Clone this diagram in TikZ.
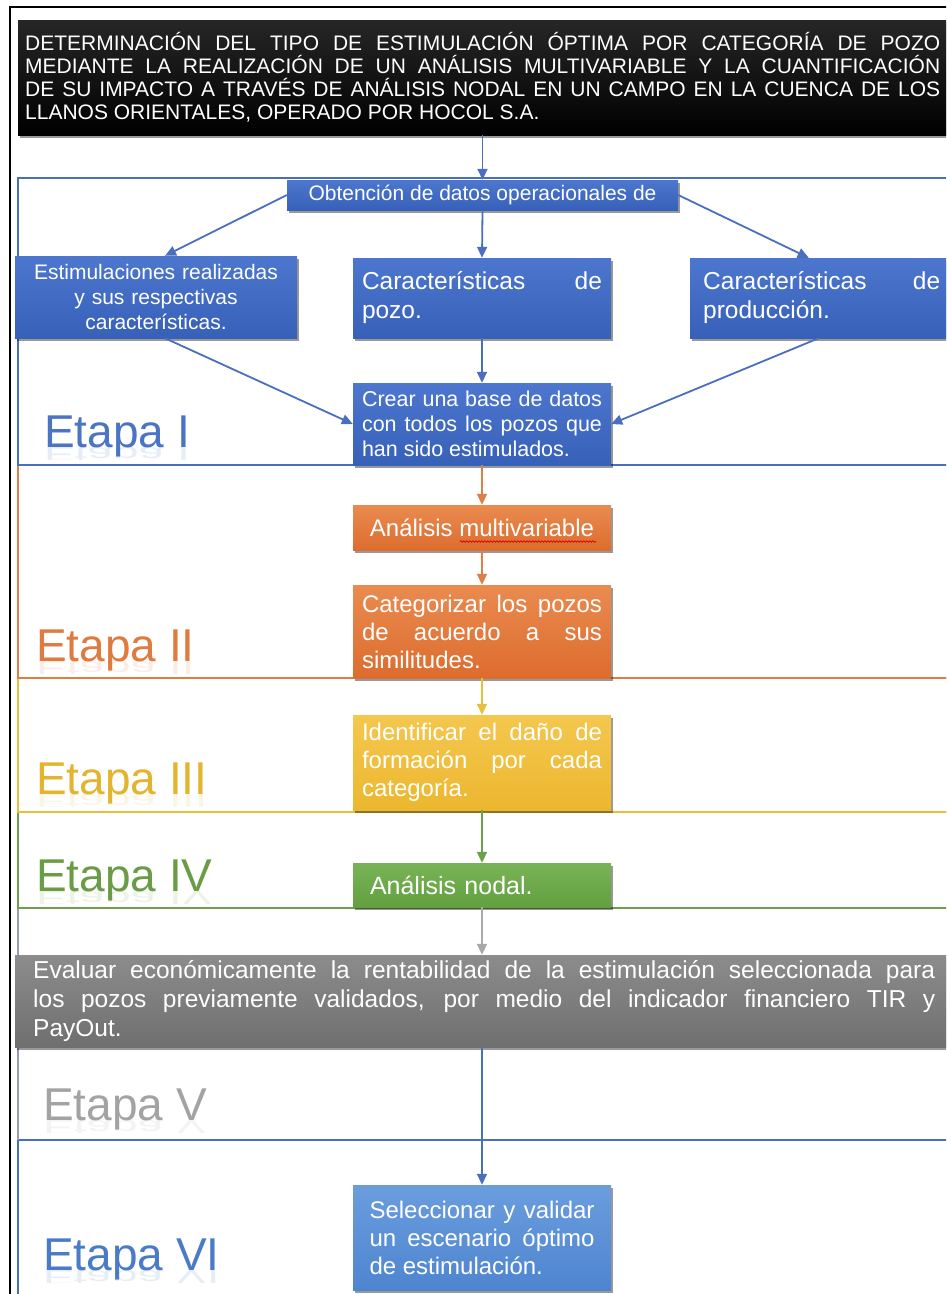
\documentclass[tikz,border=0pt]{standalone}
\usepackage{fontspec}
\setmainfont{Liberation Sans}
\usetikzlibrary{arrows.meta,shadows,calc,decorations.pathmorphing}
\hyphenpenalty=10000
\exhyphenpenalty=10000
\tolerance=9999

\definecolor{bluetop}{HTML}{4D77CE}
\definecolor{bluebot}{HTML}{3760B9}
\definecolor{lbluetop}{HTML}{6B9DDE}
\definecolor{lbluebot}{HTML}{4E85CF}
\definecolor{orgtop}{HTML}{EA8B50}
\definecolor{orgbot}{HTML}{DD6C2E}
\definecolor{yeltop}{HTML}{F4C74E}
\definecolor{yelbot}{HTML}{ECB72F}
\definecolor{grntop}{HTML}{79B357}
\definecolor{grnbot}{HTML}{62A03F}
\definecolor{graytop}{HTML}{8C8C8C}
\definecolor{graybot}{HTML}{6F6F6F}
\definecolor{lineblue}{HTML}{4A6FBF}
\definecolor{lineorg}{HTML}{E07D45}
\definecolor{lineyel}{HTML}{E9BE3C}
\definecolor{linegrn}{HTML}{6E9F4B}
\definecolor{linegray}{HTML}{A9A9A9}
\definecolor{txtblue}{HTML}{4B74C4}
\definecolor{txtorg}{HTML}{E07B40}
\definecolor{txtyel}{HTML}{E3B42E}
\definecolor{txtgrn}{HTML}{6A9C45}
\definecolor{txtgray}{HTML}{A3A3A3}
\definecolor{txtblue2}{HTML}{4A7BC6}

% stage label with a faint, squashed mirror image under its baseline
\newcommand{\stagelabel}[4]{% name, colour, position, text
  \node[etapa, text=#2] (#1) at (#3) {#4};
  \begin{scope}
    \clip ($(#3)+(-2,0)$) rectangle ($(#3)+(220,12)$);
    \node[etapa, text=#2, opacity=0.13, transform shape, yscale=-0.45] at (#3) {#4};
  \end{scope}}

\begin{document}
\begin{tikzpicture}[x=1pt,y=-1pt,
  box/.style={rectangle, inner sep=0pt, text=white,
    drop shadow={shadow xshift=1.5pt, shadow yshift=-3pt, opacity=0.4, fill=black}},
  bluebox/.style={box, top color=bluetop, bottom color=bluebot},
  lbluebox/.style={box, top color=lbluetop, bottom color=lbluebot},
  orgbox/.style={box, top color=orgtop, bottom color=orgbot},
  yelbox/.style={box, top color=yeltop, bottom color=yelbot},
  grnbox/.style={box, top color=grntop, bottom color=grnbot},
  graybox/.style={box, top color=graytop, bottom color=graybot},
  colbox/.style={minimum width=258pt, text width=240pt, align=justify},
  flow/.style={line width=1.8pt, -{Triangle[length=11pt,width=10pt]}},
  region/.style={line width=2pt},
  etapa/.style={anchor=base west, inner sep=0pt, font=\fontsize{46}{50}\selectfont},
]
\useasboundingbox (0,0) rectangle (946,1294);
\fill[white] (0,0) rectangle (946,1294);
\clip (0,0) rectangle (946,1294);

% stage bands, drawn bottom-up so each upper band's border sits on top
\draw[region, lineblue] (18,1140) rectangle (960,1300);
\draw[region, linegray!80!lineblue] (18,908) -- (18,1140);
\draw[region, linegrn] (18,812) rectangle (960,908);
\draw[region, lineyel] (18,678) rectangle (960,812);
\draw[region, lineorg] (18,465) rectangle (960,678);
\draw[region, lineblue] (18,178) rectangle (960,465);

% outer frame
\draw[line width=2.5pt, black] (10,1300) -- (10,7) -- (960,7);

% title
\node[box, top color=black!85, bottom color=black, anchor=west,
  text width=915pt, inner xsep=7pt, minimum height=115pt, align=justify,
  font=\fontsize{21}{23}\selectfont] (title) at (18,77.5)
  {DETERMINACIÓN DEL TIPO DE ESTIMULACIÓN ÓPTIMA POR CATEGORÍA DE POZO\linebreak
   MEDIANTE LA REALIZACIÓN DE UN ANÁLISIS MULTIVARIABLE Y LA CUANTIFICACIÓN\linebreak
   DE SU IMPACTO A TRAVÉS DE ANÁLISIS NODAL EN UN CAMPO EN LA CUENCA DE LOS\linebreak
   LLANOS ORIENTALES, OPERADO POR HOCOL S.A.};

% Etapa I
\node[bluebox, minimum width=391pt, minimum height=30pt, font=\fontsize{21}{24}\selectfont]
  (obt) at (482.5,195) {Obtención de datos operacionales de};
\node[bluebox, minimum width=282pt, minimum height=82pt, text width=270pt, align=center,
  font=\fontsize{21}{25}\selectfont] (est) at (156,297)
  {Estimulaciones realizadas\\ y sus respectivas\\ características.};
\node[bluebox, colbox, minimum height=80pt, font=\fontsize{24.5}{29}\selectfont]
  (pozo) at (482,298) {Características de\linebreak pozo.};
\node[bluebox, anchor=west, text width=237pt, inner xsep=13pt, minimum height=80pt,
  align=justify, font=\fontsize{24.5}{29}\selectfont]
  (prod) at (690,298) {Características de\linebreak producción.};
\node[bluebox, colbox, minimum height=82pt, font=\fontsize{21.5}{25}\selectfont]
  (crear) at (482,424) {Crear una base de datos\linebreak con todos los pozos que\linebreak han sido estimulados.};
\stagelabel{e1}{txtblue}{44,447}{Etapa I}

% Etapa II
\node[orgbox, minimum width=258pt, minimum height=45pt, font=\fontsize{24}{28}\selectfont]
  (multi) at (482,527.5) {Análisis multivariable};
\node[orgbox, colbox, minimum height=93pt, font=\fontsize{24}{28}\selectfont]
  (categ) at (482,631.5) {Categorizar los pozos\linebreak de acuerdo a sus\linebreak similitudes.};
\stagelabel{e2}{txtorg}{36,661}{Etapa II}

% Etapa III
\node[yelbox, colbox, minimum height=95pt, font=\fontsize{24}{28}\selectfont]
  (ident) at (482,762.5) {Identificar el daño de\linebreak formación por cada\linebreak categoría.};
\stagelabel{e3}{txtyel}{36,794}{Etapa III}

% Etapa IV
\node[grnbox, minimum width=258pt, minimum height=44pt, text width=224pt, align=left,
  font=\fontsize{25}{29}\selectfont] (nodal) at (482,885) {Análisis nodal.};
\stagelabel{e4}{txtgrn}{36,891}{Etapa IV}

% Etapa V
\node[graybox, anchor=west, text width=902pt, inner xsep=18pt, minimum height=92pt,
  align=justify, font=\fontsize{24.5}{29}\selectfont] (eval) at (15,1001)
  {Evaluar económicamente la rentabilidad de la estimulación seleccionada para\linebreak
   los pozos previamente validados, por medio del indicador financiero TIR y\linebreak
   PayOut.};
\stagelabel{e5}{txtgray}{43,1120}{Etapa V}

% Etapa VI
\node[lbluebox, minimum width=258pt, text width=225pt, align=justify, minimum height=105pt,
  font=\fontsize{24}{28}\selectfont] (selec) at (482,1237.5)
  {Seleccionar y validar\linebreak un escenario óptimo\linebreak de estimulación.};
\stagelabel{e6}{txtblue2}{43,1270}{Etapa VI}

% spelling mark under "multivariable"
\draw[red!85!black, line width=0.7pt, decorate,
  decoration={snake, amplitude=0.8pt, segment length=3pt}]
  ($(multi.center)+(-22,14)$) -- ($(multi.center)+(114,14)$);

% connectors
\draw[flow, lineblue] (title.south -| obt.north) -- (obt.north);
\draw[flow, lineblue] (obt.west) -- ($(est.north)+(9,0)$);
\draw[flow, lineblue] (obt.south) -- (pozo.north);
\draw[flow, lineblue] (obt.east) -- ($(prod.north)+(-13,0)$);
\draw[flow, lineblue] ($(est.south)+(9,0)$) -- (crear.west);
\draw[flow, lineblue] (pozo.south) -- (crear.north);
\draw[flow, lineblue] ($(prod.south)+(-3,0)$) -- (crear.east);
\draw[flow, lineorg] (crear.south) -- (multi.north);
\draw[flow, lineorg] (multi.south) -- (categ.north);
\draw[flow, lineyel] (categ.south) -- (ident.north);
\draw[flow, linegrn] (ident.south) -- (nodal.north);
\draw[flow, linegray] (nodal.south) -- (eval.north -| nodal.south);
\draw[flow, lineblue] (eval.south -| selec.north) -- (selec.north);
\end{tikzpicture}
\end{document}
